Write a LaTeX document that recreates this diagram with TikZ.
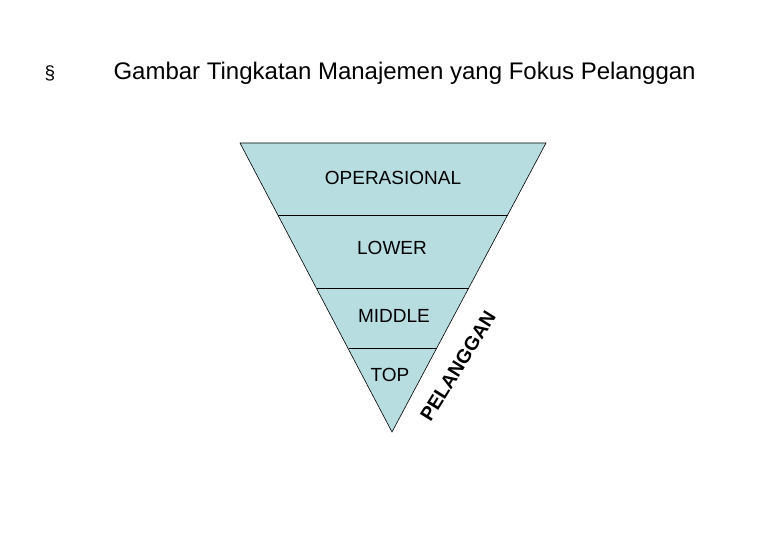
\documentclass[tikz,border=0pt]{standalone}
\usepackage{fontspec}
\setmainfont{Liberation Sans}
\begin{document}
\begin{tikzpicture}[x=1pt,y=-1pt,
  lbl/.style={font=\fontsize{19}{22}\selectfont},
  lvl/.style={draw=black,line width=0.6pt}]
\useasboundingbox (0,0) rectangle (780,540);
\coordinate (tl) at (240,143);
\coordinate (tr) at (546,143);
\coordinate (bt) at (392,432);
\filldraw[fill={rgb,255:red,183;green,221;blue,225},draw=black,line width=0.6pt] (tl)--(tr)--(bt)--cycle;
\coordinate (a1) at (278,215); \coordinate (b1) at (508,215);
\coordinate (a2) at (317,288); \coordinate (b2) at (469,288);
\coordinate (a3) at (349,348); \coordinate (b3) at (437,348);
\draw[lvl] (a1)--(b1); \draw[lvl] (a2)--(b2); \draw[lvl] (a3)--(b3);
\node[lbl] (op) at (393,178) {OPERASIONAL};
\node[lbl] (lo) at (392,248) {LOWER};
\node[lbl] (mi) at (394,316) {MIDDLE};
\node[lbl] (to) at (390,375) {TOP};
\node[font=\fontsize{19.5}{22}\selectfont\bfseries,rotate=58] (pl) at (458,366) {PELANGGAN};
\node[font=\fontsize{19}{22}\selectfont] (bu) at (50,73) {§};
\node[font=\fontsize{24}{28}\selectfont,anchor=west] (ti) at (110,73) {Gambar Tingkatan Manajemen yang Fokus Pelanggan};
\end{tikzpicture}
\end{document}
